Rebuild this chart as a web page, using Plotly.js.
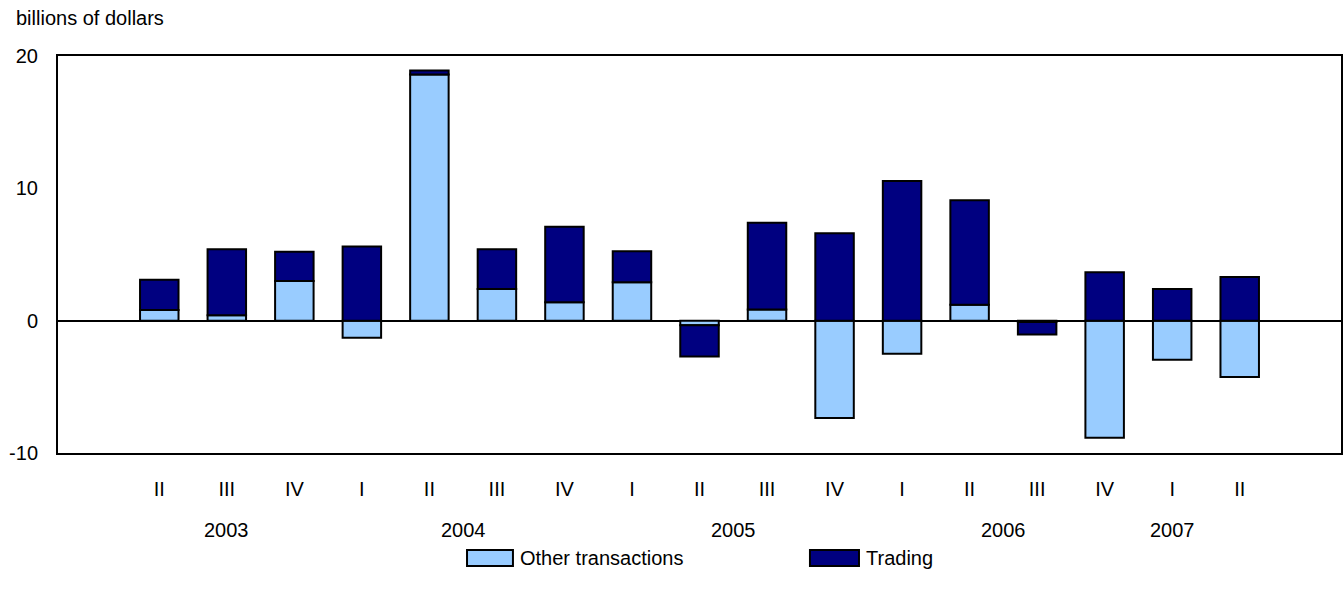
<!DOCTYPE html>
<html><head><meta charset="utf-8">
<script src="https://cdn.plot.ly/plotly-3.0.1.min.js"></script>
<style>html,body{margin:0;padding:0;background:#fff}#chart{width:1343px;height:601px}</style>
</head><body><div id="chart"></div>
<script>
const quarters = ['II','III','IV','I','II','III','IV','I','II','III','IV','I','II','III','IV','I','II'];
const quarterYears = ['2003','2003','2003','2004','2004','2004','2004','2005','2005','2005','2005','2006','2006','2006','2006','2007','2007'];
const otherTransactions = [0.8, 0.4, 3.0, -1.3, 18.6, 2.4, 1.4, 2.9, -0.35, 0.85, -7.35, -2.5, 1.2, -0.1, -8.85, -2.95, -4.25];
const trading = [2.3, 5.0, 2.2, 5.6, 0.3, 3.0, 5.7, 2.35, -2.35, 6.55, 6.6, 10.55, 7.9, -0.95, 3.65, 2.4, 3.3];
const years = ['2003','2004','2005','2006','2007'];
const seriesNames = ['Other transactions','Trading'];
const yTicks = [-10, 0, 10, 20];

const FONT = 'Liberation Sans, Arial, sans-serif';
const FS = 20;
const colors = ['#99CCFF', '#000080'];
const xIdx = quarters.map((q, i) => i + 1);

const traces = [otherTransactions, trading].map((vals, k) => ({
  type: 'bar', x: xIdx, y: vals, name: seriesNames[k],
  marker: {color: colors[k], line: {color: '#000', width: 2}},
  showlegend: false, hoverinfo: 'skip'
}));

const annotations = years.map(y => {
  const idx = xIdx.filter((v, i) => quarterYears[i] === y);
  const x = idx.length > 2 ? idx.reduce((a, b) => a + b, 0) / idx.length : idx[0];
  return {text: y, x: x, xref: 'x', y: -0.194, yref: 'paper', showarrow: false,
          xanchor: 'center', yanchor: 'middle', font: {family: FONT, size: FS, color: '#000'}};
});
annotations.push({text: 'billions of dollars', x: -0.0343, xref: 'paper', y: 1.0957, yref: 'paper',
  showarrow: false, xanchor: 'left', yanchor: 'middle', font: {family: FONT, size: FS, color: '#000'}});

// custom legend
const legendPos = [{x0: 0.3188, x1: 0.3546, tx: 0.3585}, {x0: 0.5861, x1: 0.6243, tx: 0.6282}];
const shapes = [];
legendPos.forEach((p, k) => {
  shapes.push({type: 'rect', xref: 'paper', yref: 'paper', x0: p.x0, x1: p.x1, y0: -0.2846, y1: -0.2443,
    fillcolor: colors[k], line: {color: '#000', width: 2}});
  annotations.push({text: seriesNames[k], x: p.tx, xref: 'paper', y: -0.2645, yref: 'paper', showarrow: false,
    xanchor: 'left', yanchor: 'middle', font: {family: FONT, size: FS, color: '#000'}});
});

const layout = {
  width: 1343, height: 601,
  margin: {l: 58, r: 2, t: 56, b: 148},
  paper_bgcolor: '#fff', plot_bgcolor: '#fff',
  barmode: 'relative', bargap: 0.43,
  font: {family: FONT, size: FS, color: '#000'},
  xaxis: {range: [-0.5, 18.5], tickvals: xIdx, ticktext: quarters, ticks: '', showgrid: false,
    zeroline: false, showline: true, mirror: true, linecolor: '#000', linewidth: 2,
    ticklabelstandoff: 17, tickfont: {family: FONT, size: FS, color: '#000'}},
  yaxis: {range: [-10, 20], tickvals: yTicks, ticktext: yTicks.map(String), ticks: '', showgrid: false,
    zeroline: true, zerolinecolor: '#000', zerolinewidth: 2,
    showline: true, mirror: true, linecolor: '#000', linewidth: 2,
    ticklabelstandoff: 14, tickfont: {family: FONT, size: FS, color: '#000'}},
  annotations: annotations, shapes: shapes, showlegend: false
};
Plotly.newPlot('chart', traces, layout, {displayModeBar: false, staticPlot: true});
</script></body></html>
